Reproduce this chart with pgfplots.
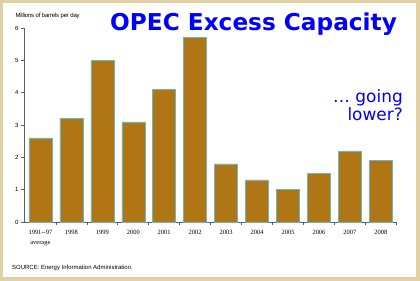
\documentclass[border=0pt]{standalone}
\usepackage{pgfplots}
\pgfplotsset{compat=1.18}
\usepackage{fontspec}
\setmainfont{Liberation Sans}
\newfontfamily\titlefont{DejaVu Sans}
\newfontfamily\serifyr{Liberation Serif}
\definecolor{barfill}{RGB}{176,118,22}
\definecolor{baredge}{RGB}{100,185,195}
\definecolor{frame}{RGB}{226,208,165}
\definecolor{axgray}{RGB}{95,95,95}
\begin{document}
\begin{tikzpicture}[x=1bp,y=1bp]
\fill[frame] (0,0) rectangle (420,281);
\fill[white] (3,4) rectangle (416,278);
\begin{axis}[
  at={(24bp,59bp)}, anchor=south west,
  scale only axis, width=373bp, height=194bp,
  xmin=-0.53, xmax=11.52, ymin=0, ymax=6,
  axis x line*=bottom, axis y line*=left,
  axis line style={axgray, line width=0.8pt},
  ybar, bar width=23bp, bar shift=0pt,
  ytick={0,1,2,3,4,5,6},
  yticklabel style={font=\fontsize{6}{7}\selectfont, xshift=1bp},
  /pgf/number format/assume math mode=true,
  major tick length=3bp,
  tick style={axgray, line width=0.6pt},
  tick align=outside,
  xtick={0.5,1.5,2.5,3.5,4.5,5.5,6.5,7.5,8.5,9.5,10.5,11.5},
  xticklabels={},
  extra x ticks={0,...,11},
  extra x tick labels={{1991--97\\[1.5bp]average},1998,1999,2000,2001,2002,2003,2004,2005,2006,2007,2008},
  extra x tick style={major tick length=0pt, xticklabel style={font=\serifyr\fontsize{6.5}{8}\selectfont, align=center, anchor=north, yshift=-5bp}},
  clip=false,
]
\addplot[fill=barfill, draw=baredge, line width=0.5pt] coordinates {
(0,2.6) (1,3.2) (2,5.0) (3,3.1) (4,4.1) (5,5.7) (6,1.8) (7,1.3) (8,1.0) (9,1.5) (10,2.2) (11,1.9)};
\end{axis}
\node[anchor=base west, font=\fontsize{6}{7}\selectfont\addfontfeatures{LetterSpace=-3}] at (12,264) {Millions of barrels per day};
\node[anchor=base west, font=\titlefont\bfseries\fontsize{23.3}{26}\selectfont, text=blue, inner sep=0pt] at (110,251) {OPEC Excess Capacity};
\node[anchor=north east, align=right, font=\titlefont\fontsize{17}{19}\selectfont, text=blue, inner sep=0pt] at (403,192) {\dots\ going\\lower?};
\node[anchor=base west, font=\fontsize{6}{7}\selectfont, inner sep=0pt] at (12,12) {SOURCE: Energy Information Administration.};
\end{tikzpicture}
\end{document}
